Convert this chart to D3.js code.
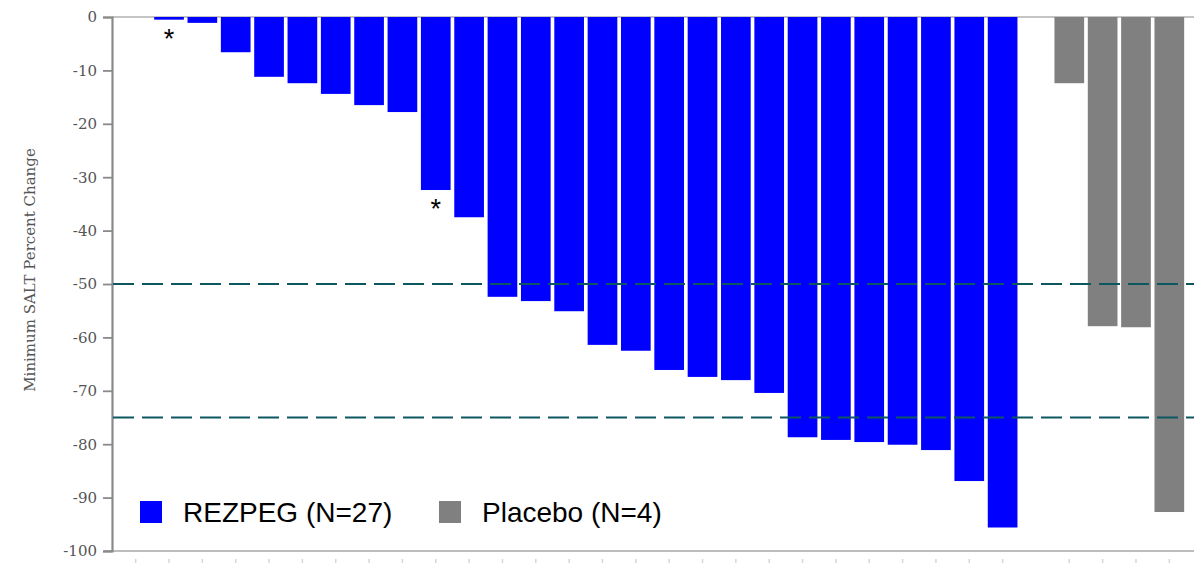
<!DOCTYPE html>
<html>
<head>
<meta charset="utf-8">
<script src="https://cdn.jsdelivr.net/npm/d3@7"></script>
<style>
  html, body { margin: 0; padding: 0; background: #fff; }
  svg { display: block; }
</style>
</head>
<body>
<svg id="chart" width="1194" height="563"></svg>
<script>
// Minimum SALT percent change per patient, sorted within each arm
const rezpegIds = d3.range(1, 28).map(i => "R" + i);
const rezpegValues = [0, -0.5, -1.1, -6.6, -11.2, -12.4, -14.4, -16.5, -17.8, -32.4, -37.5,
  -52.4, -53.2, -55.1, -61.4, -62.5, -66.1, -67.4, -68.0, -70.4, -78.7, -79.2, -79.6,
  -80.1, -81.1, -86.9, -95.6];
const placeboIds = d3.range(1, 5).map(i => "P" + i);
const placeboValues = [-12.4, -57.9, -58.1, -92.7];
// patients flagged with an asterisk
const flaggedIds = ["R2", "R10"];
const yTicks = [0, -10, -20, -30, -40, -50, -60, -70, -80, -90, -100];
const thresholds = [-50, -75];
const legendItems = [
  { key: "rezpeg", label: "REZPEG (N=27)" },
  { key: "placebo", label: "Placebo (N=4)" }
];
const colors = { rezpeg: "#0000ff", placebo: "#808080" };

const rows = [
  ...rezpegIds.map((id, i) => ({ id, value: rezpegValues[i], arm: "rezpeg" })),
  ...placeboIds.map((id, i) => ({ id, value: placeboValues[i], arm: "placebo" }))
];
// an empty slot separates the two arms
const domain = [...rezpegIds, "gap", ...placeboIds];

const svg = d3.select("#chart");

const x = d3.scaleBand().domain(domain).range([119, 1186]).paddingInner(0.11).paddingOuter(0.055);
const y = d3.scaleLinear().domain([-100, 0]).range([551, 17]);

const axisGrey = "#8a8a8a";
const labelFont = "'DejaVu Serif', 'Liberation Serif', serif";

// zero baseline and bottom frame line
svg.append("line").attr("x1", 112).attr("x2", 1194)
  .attr("y1", y(0)).attr("y2", y(0))
  .attr("stroke", "#b0b0b0").attr("stroke-width", 1.5);
svg.append("line").attr("x1", 104).attr("x2", 1194)
  .attr("y1", y(-100)).attr("y2", y(-100))
  .attr("stroke", "#bdbdbd").attr("stroke-width", 2);

// small marks below the bottom line, one per patient
svg.append("g").selectAll("line").data(rows).join("line")
  .attr("x1", d => x(d.id) + x.bandwidth() / 2)
  .attr("x2", d => x(d.id) + x.bandwidth() / 2)
  .attr("y1", 559).attr("y2", 563)
  .attr("stroke", "#d6d6d6").attr("stroke-width", 1.5);

// bars
svg.append("g").selectAll("rect").data(rows).join("rect")
  .attr("x", d => x(d.id))
  .attr("width", x.bandwidth())
  .attr("y", y(0))
  .attr("height", d => y(d.value) - y(0))
  .attr("fill", d => colors[d.arm]);

// y axis
const yAxis = d3.axisLeft(y).tickValues(yTicks).tickFormat(d => String(d)).tickSize(9).tickPadding(6);
const gy = svg.append("g").attr("transform", "translate(112,0)").call(yAxis);
gy.select(".domain").attr("stroke", axisGrey).attr("stroke-width", 2.2);
gy.selectAll(".tick line").attr("stroke", axisGrey).attr("stroke-width", 1.8);
gy.selectAll(".tick text").attr("fill", "#555").attr("font-family", labelFont).attr("font-size", 15);

svg.append("text")
  .attr("transform", "translate(35,270) rotate(-90)")
  .attr("text-anchor", "middle")
  .attr("font-family", labelFont).attr("font-size", 15).attr("fill", "#555")
  .text("Minimum SALT Percent Change");

// response threshold lines
svg.append("g").selectAll("line").data(thresholds).join("line")
  .attr("x1", 113).attr("x2", 1194)
  .attr("y1", d => y(d)).attr("y2", d => y(d))
  .attr("stroke", "#0d5760").attr("stroke-width", 2.2)
  .attr("stroke-dasharray", "21 8");

// asterisks under flagged bars
svg.append("g").selectAll("text").data(rows.filter(d => flaggedIds.includes(d.id))).join("text")
  .attr("x", d => x(d.id) + x.bandwidth() / 2)
  .attr("y", d => y(d.value) + 28)
  .attr("text-anchor", "middle")
  .attr("font-family", "'Liberation Sans', Arial, sans-serif").attr("font-size", 27)
  .attr("fill", "#000")
  .text("*");

// legend
const legendX = [140, 439];
const lg = svg.append("g").selectAll("g").data(legendItems).join("g")
  .attr("transform", (d, i) => `translate(${legendX[i]},501)`);
lg.append("rect").attr("width", 22).attr("height", 22).attr("fill", d => colors[d.key]);
lg.append("text").attr("x", 43).attr("y", 21)
  .attr("font-family", "'Liberation Sans', Arial, sans-serif").attr("font-size", 28)
  .attr("fill", "#000")
  .text(d => d.label);
</script>
</body>
</html>
